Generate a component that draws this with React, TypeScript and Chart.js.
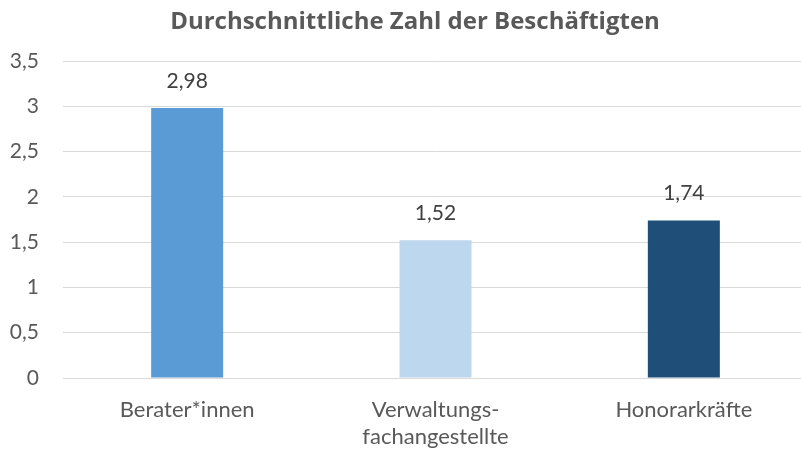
import React, { useEffect, useRef } from "react";
import { Chart, registerables } from "chart.js";

Chart.register(...registerables);

const categories: (string | string[])[] = ["Berater*innen", ["Verwaltungs-", "fachangestellte"], "Honorarkräfte"];
const values: number[] = [2.98, 1.52, 1.74];
const barColors: string[] = ["#5B9BD5", "#BDD7EE", "#1F4E79"];
const titleText = "Durchschnittliche Zahl der Beschäftigten";
const yMin = 0;
const yMax = 3.5;
const yStep = 0.5;

const FONT = "Lato, 'Open Sans', 'Noto Sans', sans-serif";
const TITLE_FONT = "'Open Sans', Lato, 'Noto Sans', sans-serif";
const fmt = (v: number) => String(v).replace(".", ",");

const dataLabels = {
  id: "dataLabels",
  afterDatasetsDraw(chart: any) {
    const ctx = chart.ctx;
    const meta = chart.getDatasetMeta(0);
    ctx.save();
    ctx.font = `21px ${FONT}`;
    ctx.fillStyle = "#404040";
    ctx.textAlign = "center";
    ctx.textBaseline = "middle";
    meta.data.forEach((bar: any, i: number) => {
      ctx.fillText(fmt(values[i]), bar.x, bar.y - 27);
    });
    ctx.restore();
  },
};

const chartTitle = {
  id: "chartTitle",
  afterDraw(chart: any) {
    const ctx = chart.ctx;
    ctx.save();
    ctx.font = `bold 24px ${TITLE_FONT}`;
    ctx.fillStyle = "#595959";
    ctx.textAlign = "center";
    ctx.textBaseline = "middle";
    ctx.fillText(titleText, 415, 22);
    ctx.restore();
  },
};

export default function App() {
  const ref = useRef<HTMLCanvasElement | null>(null);
  useEffect(() => {
    document.body.style.margin = "0";
    if (!ref.current) return;
    const chart = new Chart(ref.current, {
      type: "bar",
      data: {
        labels: categories,
        datasets: [
          {
            data: values,
            backgroundColor: barColors,
            categoryPercentage: 1,
            barPercentage: 0.29,
          },
        ],
      },
      options: {
        animation: false,
        responsive: false,
        maintainAspectRatio: false,
        layout: { padding: { left: 8, right: 2, top: 61, bottom: 0 } },
        plugins: {
          legend: { display: false },
          tooltip: { enabled: false },
          title: { display: false },
        },
        scales: {
          x: {
            grid: { display: false, drawTicks: false },
            border: { display: true, color: "#D9D9D9", width: 1 },
            ticks: {
              color: "#595959",
              font: { family: FONT, size: 22, lineHeight: 1.227 },
              padding: 18,
              maxRotation: 0,
            },
            afterFit: (s: any) => {
              s.height = 74;
            },
          },
          y: {
            min: yMin,
            max: yMax,
            grid: { color: "#D9D9D9", lineWidth: 1, drawTicks: false },
            border: { display: false },
            ticks: {
              stepSize: yStep,
              color: "#595959",
              font: { family: FONT, size: 21 },
              padding: 24,
              callback: (v: any) => fmt(Number(v)),
            },
            afterFit: (s: any) => {
              s.width = 55;
            },
          },
        },
      },
      plugins: [dataLabels, chartTitle],
    });
    return () => chart.destroy();
  }, []);
  return (
    <div style={{ position: "absolute", left: 0, top: 0, width: 801, height: 452, overflow: "hidden" }}>
      <canvas ref={ref} width={810} height={452} style={{ display: "block" }} />
    </div>
  );
}
